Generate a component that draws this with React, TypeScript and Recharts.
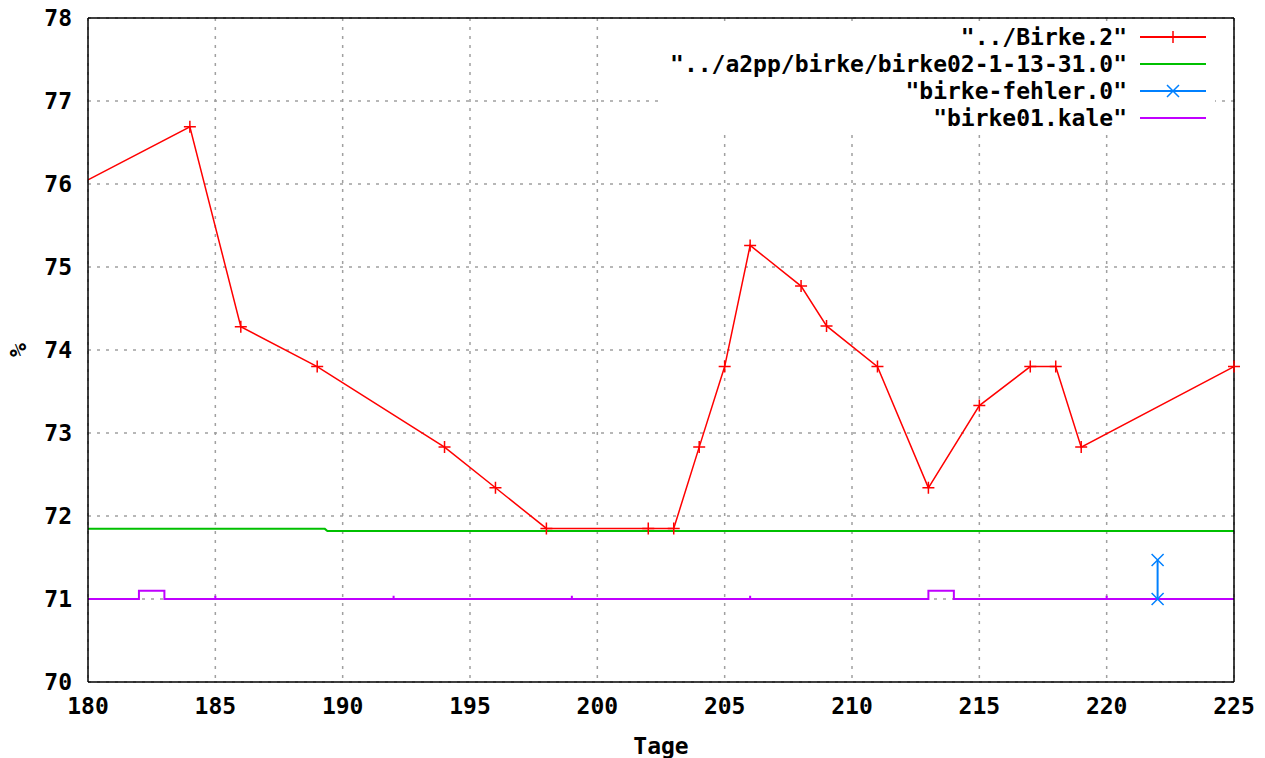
import { LineChart, Line, XAxis, YAxis, CartesianGrid, Legend } from "recharts";

const xTicks = [180, 185, 190, 195, 200, 205, 210, 215, 220, 225];
const yTicks = [70, 71, 72, 73, 74, 75, 76, 77, 78];

// "../Birke.2"
const birkeDays = [180, 184, 186, 189, 194, 196, 198, 202, 203, 204, 205, 206, 208, 209, 211, 213, 215, 217, 218, 219, 225];
const birkeValues = [76.05, 76.69, 74.28, 73.8, 72.83, 72.34, 71.85, 71.85, 71.85, 72.83, 73.8, 75.26, 74.77, 74.29, 73.8, 72.34, 73.33, 73.8, 73.8, 72.83, 73.8];

// "../a2pp/birke/birke02-1-13-31.0"
const modelDays = [180, 189.3, 189.4, 225];
const modelValues = [71.845, 71.845, 71.82, 71.82];

// "birke-fehler.0"
const errorDays = [222, 222];
const errorValues = [71, 71.47];

// "birke01.kale"
const kaleDays = [180, 182, 182, 183, 183, 185, 185, 185, 192, 192, 192, 199, 199, 199, 206, 206, 206, 213, 213, 214, 214, 220, 220, 220, 225];
const kaleValues = [71, 71, 71.1, 71.1, 71, 71, 71.04, 71, 71, 71.04, 71, 71, 71.04, 71, 71, 71.04, 71, 71, 71.1, 71.1, 71, 71, 71.04, 71, 71];

const RED = "#ff0000";
const GREEN = "#00c000";
const BLUE = "#0080ff";
const PURPLE = "#c000ff";

const FONT = "'DejaVu Sans Mono', monospace";
const tickStyle = { fill: "#000", fontFamily: FONT, fontWeight: 700, fontSize: 23 };

const toPoints = (xs: number[], ys: number[]) => xs.map((x, i) => ({ x, y: ys[i] }));

const birkeData = toPoints(birkeDays, birkeValues);
const modelData = toPoints(modelDays, modelValues);
const errorData = toPoints(errorDays, errorValues);
const kaleData = toPoints(kaleDays, kaleValues);

const legendRows = [
  { name: '"../Birke.2"', color: RED, marker: "plus" },
  { name: '"../a2pp/birke/birke02-1-13-31.0"', color: GREEN, marker: "none" },
  { name: '"birke-fehler.0"', color: BLUE, marker: "cross" },
  { name: '"birke01.kale"', color: PURPLE, marker: "none" },
];

const plusPath = (x: number, y: number, r: number) => `M${x - r},${y}h${2 * r}M${x},${y - r}v${2 * r}`;
const crossPath = (x: number, y: number, r: number) =>
  `M${x - r},${y - r}L${x + r},${y + r}M${x - r},${y + r}L${x + r},${y - r}`;

const PlusDot = (props: any) => {
  const { cx, cy, index } = props;
  // the first sample sits on the frame and has no marker
  if (index === 0 || cx == null) return <g key={`p-${index}`} />;
  return <path key={`p-${index}`} d={plusPath(cx, cy, 6)} stroke={RED} strokeWidth={1.5} fill="none" />;
};

const CrossDot = (props: any) => {
  const { cx, cy, index } = props;
  if (cx == null) return <g key={`c-${index}`} />;
  return <path key={`c-${index}`} d={crossPath(cx, cy, 6)} stroke={BLUE} strokeWidth={1.5} fill="none" />;
};

const KeyBox = () => (
  <svg width={553} height={104} style={{ overflow: "visible", display: "block" }}>
    {legendRows.map((row, i) => {
      const cy = 10 + i * 27;
      return (
        <g key={row.name}>
          <text
            x={465}
            y={cy}
            textAnchor="end"
            dominantBaseline="central"
            fontFamily={FONT}
            fontWeight={700}
            fontSize={23}
            fill="#000"
          >
            {row.name}
          </text>
          <line x1={478} x2={544} y1={cy} y2={cy} stroke={row.color} strokeWidth={2} />
          {row.marker === "plus" && <path d={plusPath(511, cy, 6)} stroke={row.color} strokeWidth={1.5} />}
          {row.marker === "cross" && <path d={crossPath(511, cy, 6)} stroke={row.color} strokeWidth={1.5} />}
        </g>
      );
    })}
  </svg>
);

export default function App() {
  return (
    <div style={{ position: "absolute", left: 0, top: 0, width: 1265, height: 758, background: "#fff" }}>
      <LineChart width={1265} height={758} margin={{ top: 18, right: 31, bottom: 6, left: 0 }}>
        <CartesianGrid
          xAxisId="main"
          yAxisId="main"
          stroke="#a0a0a0"
          strokeDasharray="3 6"
          strokeWidth={1.5}
        />
        <XAxis
          xAxisId="main"
          dataKey="x"
          type="number"
          domain={[180, 225]}
          ticks={xTicks}
          interval={0}
          height={70}
          tickLine={false}
          tickSize={6}
          tickMargin={10}
          tick={tickStyle}
          axisLine={{ stroke: "#000", strokeWidth: 1.5 }}
          label={{
            content: (p: any) => (
              <text
                x={p.viewBox.x + p.viewBox.width / 2}
                y={p.viewBox.y + 64}
                textAnchor="middle"
                dominantBaseline="central"
                fontFamily={FONT}
                fontWeight={700}
                fontSize={23}
                fill="#000"
              >
                Tage
              </text>
            ),
          }}
        />
        <XAxis
          xAxisId="bottomTicks"
          orientation="bottom"
          mirror
          type="number"
          domain={[180, 225]}
          ticks={xTicks}
          interval={0}
          tick={false}
          tickSize={8}
          tickLine={{ stroke: "#000", strokeWidth: 1.5 }}
          axisLine={false}
        />
        <XAxis
          xAxisId="top"
          orientation="top"
          mirror
          type="number"
          domain={[180, 225]}
          ticks={xTicks}
          interval={0}
          tick={false}
          tickSize={8}
          tickLine={{ stroke: "#000", strokeWidth: 1.5 }}
          axisLine={{ stroke: "#000", strokeWidth: 1.5 }}
        />
        <YAxis
          yAxisId="main"
          type="number"
          domain={[70, 78]}
          ticks={yTicks}
          interval={0}
          width={88}
          tickLine={false}
          tickSize={6}
          tickMargin={10}
          tick={tickStyle}
          axisLine={{ stroke: "#000", strokeWidth: 1.5 }}
          label={{
            content: (p: any) => {
              const cx = p.viewBox.x + 18;
              const cy = p.viewBox.y + p.viewBox.height / 2;
              return (
                <text
                  x={cx}
                  y={cy}
                  transform={`rotate(-90, ${cx}, ${cy})`}
                  textAnchor="middle"
                  dominantBaseline="central"
                  fontFamily={FONT}
                  fontWeight={700}
                  fontSize={23}
                  fill="#000"
                >
                  %
                </text>
              );
            },
          }}
        />
        <YAxis
          yAxisId="leftTicks"
          orientation="left"
          mirror
          type="number"
          domain={[70, 78]}
          ticks={yTicks}
          interval={0}
          tick={false}
          tickSize={8}
          tickLine={{ stroke: "#000", strokeWidth: 1.5 }}
          axisLine={false}
        />
        <YAxis
          yAxisId="right"
          orientation="right"
          mirror
          type="number"
          domain={[70, 78]}
          ticks={yTicks}
          interval={0}
          tick={false}
          tickSize={8}
          tickLine={{ stroke: "#000", strokeWidth: 1.5 }}
          axisLine={{ stroke: "#000", strokeWidth: 1.5 }}
        />
        <Legend
          layout="horizontal"
          verticalAlign="middle"
          align="center"
          content={() => <KeyBox />}
          wrapperStyle={{
            position: "absolute",
            left: 662,
            top: 27,
            width: 553,
            height: 104,
            background: "#fff",
          }}
        />
        <Line
          xAxisId="main"
          yAxisId="main"
          data={kaleData}
          dataKey="y"
          type="linear"
          stroke={PURPLE}
          strokeWidth={2}
          dot={false}
          isAnimationActive={false}
        />
        <Line
          xAxisId="main"
          yAxisId="main"
          data={modelData}
          dataKey="y"
          type="linear"
          stroke={GREEN}
          strokeWidth={2}
          dot={false}
          isAnimationActive={false}
        />
        <Line
          xAxisId="main"
          yAxisId="main"
          data={errorData}
          dataKey="y"
          type="linear"
          stroke={BLUE}
          strokeWidth={2}
          dot={CrossDot}
          isAnimationActive={false}
        />
        <Line
          xAxisId="main"
          yAxisId="main"
          data={birkeData}
          dataKey="y"
          type="linear"
          stroke={RED}
          strokeWidth={1.5}
          dot={PlusDot}
          isAnimationActive={false}
        />
      </LineChart>
    </div>
  );
}
